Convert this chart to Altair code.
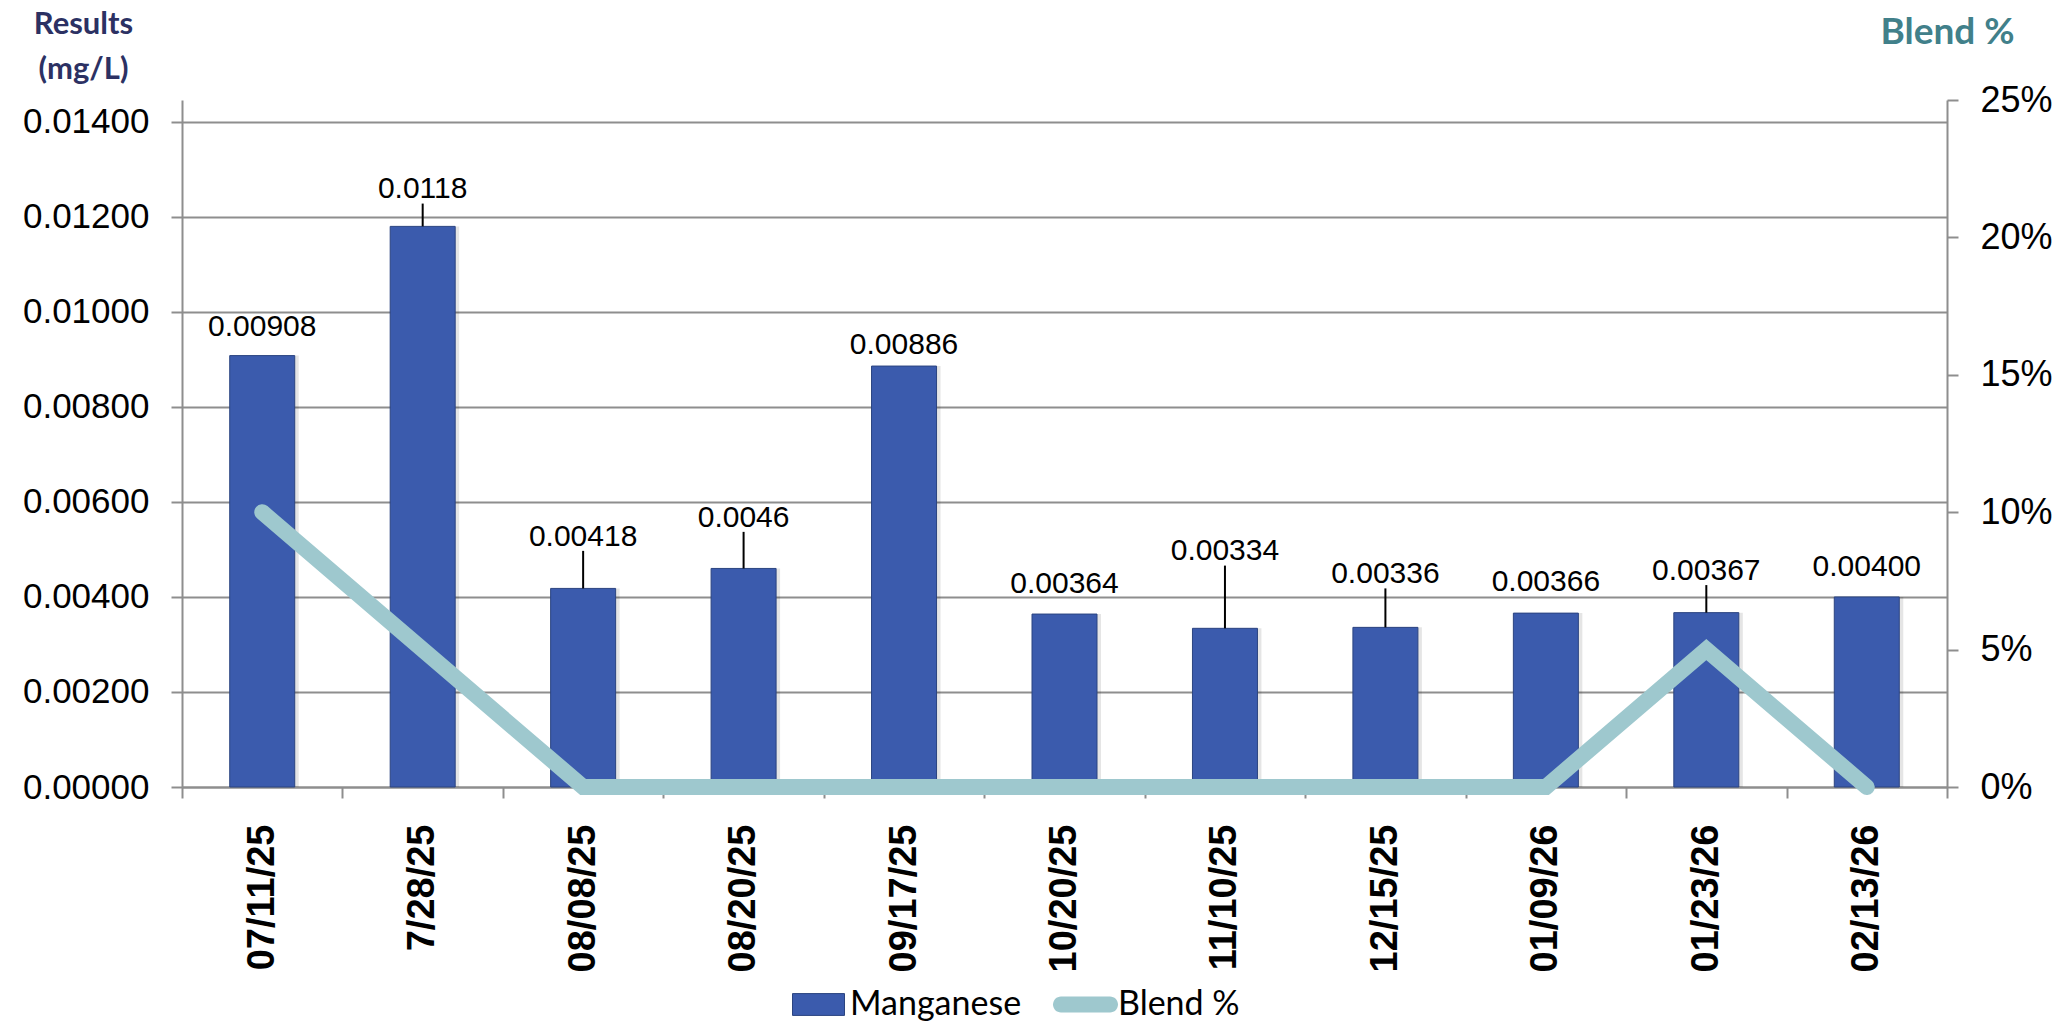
import altair as alt
import pandas as pd

# ---- data ----
dates = ["07/11/25", "7/28/25", "08/08/25", "08/20/25", "09/17/25", "10/20/25",
         "11/10/25", "12/15/25", "01/09/26", "01/23/26", "02/13/26"]
manganese = [0.00908, 0.0118, 0.00418, 0.0046, 0.00886, 0.00364,
             0.00334, 0.00336, 0.00366, 0.00367, 0.00400]
label_text = ["0.00908", "0.0118", "0.00418", "0.0046", "0.00886", "0.00364",
              "0.00334", "0.00336", "0.00366", "0.00367", "0.00400"]
blend = [0.10, 0.05, 0.0, 0.0, 0.0, 0.0, 0.0, 0.0, 0.0, 0.05, 0.0]

# label placement (annotation layout, mg/L above bar top) and leader flags
label_lift = [0.00061, 0.00078, 0.00109, 0.00107, 0.00044, 0.00063,
              0.00162, 0.00112, 0.00065, 0.00088, 0.00063]
has_leader = [False, True, True, True, False, False, True, True, False, True, False]

df = pd.DataFrame({
    "date": dates,
    "manganese": manganese,
    "label": label_text,
    "blend": blend,
    "lift": label_lift,
    "leader": has_leader,
})
df["label_y"] = df["manganese"] + df["lift"]
df["leader_top"] = df["label_y"] - 0.00030
df["series_bar"] = "Manganese"
df["series_line"] = "Blend %"

GRAY = "#8E8E8E"
BAR = "#3B5BAD"
LINE = "#9EC8CE"

x_axis = alt.Axis(
    title=None, labelAngle=270, labelFont="Liberation Sans", labelFontWeight="bold",
    labelFontSize=38, labelColor="#000000", labelPadding=26,
    domainColor=GRAY, domainWidth=2, tickColor=GRAY, tickWidth=2, tickSize=11,
    tickBand="extent", grid=False,
)
x_enc = alt.X("date:N", sort=dates, scale=alt.Scale(paddingInner=0, paddingOuter=0), axis=x_axis)

y_scale = alt.Scale(domain=[0, 0.01446], nice=False, zero=True)
left_axis = alt.Axis(
    title=["Results", "(mg/L)"], titleAngle=0, titleX=-99, titleY=-67,
    titleAlign="center", titleBaseline="alphabetic", titleFont="Lato",
    titleFontSize=31, titleFontWeight="bold", titleColor="#2C3163", titleLineHeight=45,
    values=[0, 0.002, 0.004, 0.006, 0.008, 0.010, 0.012, 0.014], format=".5f",
    labelFont="Liberation Sans", labelFontSize=35, labelColor="#000000", labelPadding=22,
    domainColor=GRAY, domainWidth=2, tickColor=GRAY, tickWidth=2, tickSize=11,
    grid=True, gridColor=GRAY, gridWidth=2,
)

base = alt.Chart(df)

shadow = base.mark_bar(size=65, color="#000000", opacity=0.10, xOffset=4).encode(
    x=x_enc,
    y=alt.Y("manganese:Q", scale=y_scale, axis=left_axis),
)

bars = base.mark_bar(size=65, stroke="#2B4480", strokeWidth=1).encode(
    x=x_enc,
    y=alt.Y("manganese:Q", scale=y_scale, axis=left_axis),
    fill=alt.Fill("series_bar:N", scale=alt.Scale(domain=["Manganese"], range=[BAR]),
                  legend=alt.Legend(
                      title=None, orient="none", legendX=610, legendY=878, padding=0,
                      symbolType="M-1,-0.42H1V0.42H-1Z", symbolSize=2704,
                      symbolStrokeColor="#2B4480", symbolStrokeWidth=1,
                      labelFont="Lato", labelFontSize=34, labelColor="#000000",
                      labelOffset=5, labelLimit=400,
                  )),
)

leaders = base.transform_filter("datum.leader").mark_rule(color="#000000", strokeWidth=2).encode(
    x=x_enc,
    y=alt.Y("manganese:Q", scale=y_scale, axis=left_axis),
    y2="leader_top:Q",
)

labels = base.mark_text(font="Liberation Sans", fontSize=30, color="#000000", baseline="middle").encode(
    x=x_enc,
    y=alt.Y("label_y:Q", scale=y_scale, axis=left_axis),
    text="label:N",
)

left = alt.layer(shadow, bars, leaders, labels)

right_axis = alt.Axis(
    orient="right", title="Blend %", titleAngle=0, titleX=0, titleY=-57,
    titleAlign="center", titleBaseline="alphabetic", titleFont="Lato",
    titleFontSize=37, titleFontWeight="bold", titleColor="#41808A",
    values=[0, 0.05, 0.10, 0.15, 0.20, 0.25], format=".0%",
    labelFont="Liberation Sans", labelFontSize=36, labelColor="#000000", labelPadding=22,
    domainColor=GRAY, domainWidth=2, tickColor=GRAY, tickWidth=2, tickSize=11, grid=False,
)

capsule = ("M-0.754,-0.246H0.754A0.246,0.246 0 0 1 0.754,0.246"
           "H-0.754A0.246,0.246 0 0 1 -0.754,-0.246Z")

line = base.mark_line(strokeWidth=16, strokeCap="round").encode(
    x=x_enc,
    y=alt.Y("blend:Q", scale=alt.Scale(domain=[0, 0.25], nice=False), axis=right_axis),
    stroke=alt.Stroke("series_line:N", scale=alt.Scale(domain=["Blend %"], range=[LINE]),
                      legend=alt.Legend(
                          title=None, orient="none", legendX=871, legendY=872, padding=0,
                          symbolType=capsule, symbolSize=4225, symbolStrokeWidth=0,
                          symbolFillColor=LINE,
                          labelFont="Lato", labelFontSize=34, labelColor="#000000",
                          labelOffset=0, labelLimit=400,
                      )),
)

chart = alt.layer(left, line).resolve_scale(
    y="independent", fill="independent", stroke="independent"
).properties(
    width=1765, height=687,
    padding={"left": 182, "top": 100, "right": 123, "bottom": 241},
    autosize=alt.AutoSizeParams(type="none"),
    background="#ffffff",
).configure_view(stroke=None)

chart.save("out.html", embed_options={"renderer": "svg", "actions": False})
